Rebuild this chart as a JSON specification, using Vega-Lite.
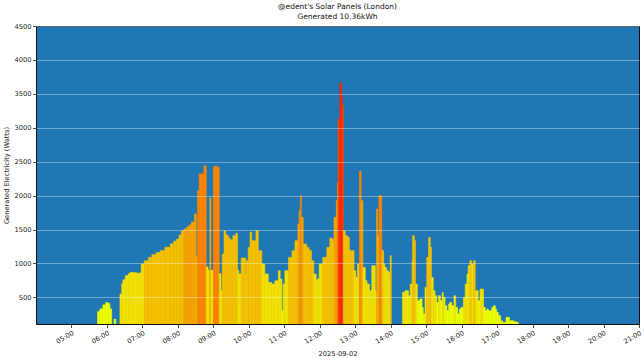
{
  "$schema": "https://vega.github.io/schema/vega-lite/v6.json",
  "autosize": "none",
  "width": 603,
  "height": 298,
  "padding": {"left": 36, "top": 26, "right": 5, "bottom": 34},
  "background": "#ffffff",
  "title": {
    "text": ["@edent's Solar Panels (London)", "Generated 10.36kWh"],
    "font": "DejaVu Sans",
    "fontSize": 7.5,
    "fontWeight": "normal",
    "color": "#111",
    "anchor": "middle",
    "lineHeight": 10,
    "offset": 3
  },
  "config": {
    "view": {"fill": "#1f77b4", "stroke": "#111", "strokeWidth": 1},
    "axis": {
      "labelFont": "DejaVu Sans",
      "titleFont": "DejaVu Sans",
      "labelFontSize": 6.7,
      "titleFontSize": 6.7,
      "titleFontWeight": "normal",
      "labelColor": "#222",
      "titleColor": "#222",
      "tickColor": "#222",
      "tickSize": 3.5,
      "tickWidth": 0.8,
      "domain": false
    }
  },
  "data": {
    "format": {"parse": {"t": "date"}},
    "values": [
      {"t": "2025-09-02T05:44", "w": 290},
      {"t": "2025-09-02T05:48", "w": 330},
      {"t": "2025-09-02T05:53", "w": 390},
      {"t": "2025-09-02T05:58", "w": 425},
      {"t": "2025-09-02T06:02", "w": 410},
      {"t": "2025-09-02T06:05", "w": 330},
      {"t": "2025-09-02T06:08", "w": null},
      {"t": "2025-09-02T06:12", "w": 180},
      {"t": "2025-09-02T06:15", "w": null},
      {"t": "2025-09-02T06:22", "w": 550},
      {"t": "2025-09-02T06:25", "w": 700},
      {"t": "2025-09-02T06:27", "w": 760},
      {"t": "2025-09-02T06:31", "w": 820},
      {"t": "2025-09-02T06:36", "w": 850},
      {"t": "2025-09-02T06:39", "w": 870},
      {"t": "2025-09-02T06:44", "w": 865},
      {"t": "2025-09-02T06:50", "w": 855},
      {"t": "2025-09-02T06:54", "w": 860},
      {"t": "2025-09-02T06:58", "w": 990},
      {"t": "2025-09-02T07:03", "w": 1040},
      {"t": "2025-09-02T07:10", "w": 1090},
      {"t": "2025-09-02T07:16", "w": 1130},
      {"t": "2025-09-02T07:23", "w": 1160},
      {"t": "2025-09-02T07:30", "w": 1190},
      {"t": "2025-09-02T07:38", "w": 1240},
      {"t": "2025-09-02T07:47", "w": 1290},
      {"t": "2025-09-02T07:53", "w": 1330},
      {"t": "2025-09-02T07:58", "w": 1360},
      {"t": "2025-09-02T08:02", "w": 1420},
      {"t": "2025-09-02T08:06", "w": 1480},
      {"t": "2025-09-02T08:10", "w": 1510},
      {"t": "2025-09-02T08:15", "w": 1540},
      {"t": "2025-09-02T08:19", "w": 1570},
      {"t": "2025-09-02T08:23", "w": 1610},
      {"t": "2025-09-02T08:28", "w": 1730},
      {"t": "2025-09-02T08:31", "w": 1100},
      {"t": "2025-09-02T08:33", "w": 2070},
      {"t": "2025-09-02T08:36", "w": 2320},
      {"t": "2025-09-02T08:41", "w": 2320},
      {"t": "2025-09-02T08:44", "w": 2440},
      {"t": "2025-09-02T08:48", "w": 950},
      {"t": "2025-09-02T08:51", "w": 900},
      {"t": "2025-09-02T08:54", "w": 1970},
      {"t": "2025-09-02T08:56", "w": 900},
      {"t": "2025-09-02T09:00", "w": 2420},
      {"t": "2025-09-02T09:03", "w": 2440},
      {"t": "2025-09-02T09:06", "w": 2420},
      {"t": "2025-09-02T09:10", "w": 850},
      {"t": "2025-09-02T09:13", "w": 600},
      {"t": "2025-09-02T09:15", "w": 1140},
      {"t": "2025-09-02T09:18", "w": 1480},
      {"t": "2025-09-02T09:21", "w": 1420},
      {"t": "2025-09-02T09:25", "w": 1380},
      {"t": "2025-09-02T09:28", "w": 1350},
      {"t": "2025-09-02T09:33", "w": 1410},
      {"t": "2025-09-02T09:38", "w": 1444},
      {"t": "2025-09-02T09:41", "w": 900},
      {"t": "2025-09-02T09:43", "w": 845},
      {"t": "2025-09-02T09:47", "w": 1080},
      {"t": "2025-09-02T09:52", "w": 1080},
      {"t": "2025-09-02T09:55", "w": 845},
      {"t": "2025-09-02T09:56", "w": 1040},
      {"t": "2025-09-02T09:59", "w": 1238},
      {"t": "2025-09-02T10:02", "w": 1460},
      {"t": "2025-09-02T10:05", "w": 1336},
      {"t": "2025-09-02T10:12", "w": 1484},
      {"t": "2025-09-02T10:16", "w": 1189},
      {"t": "2025-09-02T10:22", "w": 992},
      {"t": "2025-09-02T10:27", "w": 845},
      {"t": "2025-09-02T10:33", "w": 721},
      {"t": "2025-09-02T10:39", "w": 697},
      {"t": "2025-09-02T10:44", "w": 746},
      {"t": "2025-09-02T10:50", "w": 894},
      {"t": "2025-09-02T10:53", "w": 771},
      {"t": "2025-09-02T10:56", "w": 303},
      {"t": "2025-09-02T10:58", "w": 697},
      {"t": "2025-09-02T11:01", "w": 894},
      {"t": "2025-09-02T11:07", "w": 1090},
      {"t": "2025-09-02T11:13", "w": 1189},
      {"t": "2025-09-02T11:18", "w": 1336},
      {"t": "2025-09-02T11:23", "w": 1582},
      {"t": "2025-09-02T11:25", "w": 1779},
      {"t": "2025-09-02T11:27", "w": 2000},
      {"t": "2025-09-02T11:29", "w": 1680},
      {"t": "2025-09-02T11:32", "w": 1287},
      {"t": "2025-09-02T11:38", "w": 1238},
      {"t": "2025-09-02T11:42", "w": 1189},
      {"t": "2025-09-02T11:46", "w": 1041},
      {"t": "2025-09-02T11:50", "w": 845},
      {"t": "2025-09-02T11:54", "w": 746},
      {"t": "2025-09-02T11:56", "w": 771},
      {"t": "2025-09-02T11:59", "w": 992},
      {"t": "2025-09-02T12:05", "w": 1090},
      {"t": "2025-09-02T12:12", "w": 1238},
      {"t": "2025-09-02T12:17", "w": 1375},
      {"t": "2025-09-02T12:20", "w": 1360},
      {"t": "2025-09-02T12:24", "w": 1680},
      {"t": "2025-09-02T12:28", "w": 1926},
      {"t": "2025-09-02T12:30", "w": 2196},
      {"t": "2025-09-02T12:31", "w": 3130},
      {"t": "2025-09-02T12:34", "w": 3660},
      {"t": "2025-09-02T12:37", "w": 3500},
      {"t": "2025-09-02T12:38", "w": 3330},
      {"t": "2025-09-02T12:40", "w": 1484},
      {"t": "2025-09-02T12:43", "w": 1410},
      {"t": "2025-09-02T12:47", "w": 1385},
      {"t": "2025-09-02T12:50", "w": 1189},
      {"t": "2025-09-02T12:54", "w": 1189},
      {"t": "2025-09-02T12:58", "w": 894},
      {"t": "2025-09-02T13:01", "w": 796},
      {"t": "2025-09-02T13:04", "w": 992},
      {"t": "2025-09-02T13:07", "w": 2360},
      {"t": "2025-09-02T13:10", "w": 1926},
      {"t": "2025-09-02T13:13", "w": 942},
      {"t": "2025-09-02T13:17", "w": 746},
      {"t": "2025-09-02T13:20", "w": 697},
      {"t": "2025-09-02T13:24", "w": 599},
      {"t": "2025-09-02T13:28", "w": 967},
      {"t": "2025-09-02T13:31", "w": 967},
      {"t": "2025-09-02T13:34", "w": 599},
      {"t": "2025-09-02T13:36", "w": 1803},
      {"t": "2025-09-02T13:38", "w": 1410},
      {"t": "2025-09-02T13:40", "w": 2000},
      {"t": "2025-09-02T13:43", "w": 2000},
      {"t": "2025-09-02T13:45", "w": 1189},
      {"t": "2025-09-02T13:48", "w": 992},
      {"t": "2025-09-02T13:50", "w": 942},
      {"t": "2025-09-02T13:53", "w": 894},
      {"t": "2025-09-02T13:56", "w": 870},
      {"t": "2025-09-02T13:59", "w": 1115},
      {"t": "2025-09-02T14:01", "w": null},
      {"t": "2025-09-02T14:20", "w": 574},
      {"t": "2025-09-02T14:24", "w": 599},
      {"t": "2025-09-02T14:30", "w": 525},
      {"t": "2025-09-02T14:33", "w": 697},
      {"t": "2025-09-02T14:36", "w": 1041},
      {"t": "2025-09-02T14:37", "w": 1410},
      {"t": "2025-09-02T14:40", "w": 1336},
      {"t": "2025-09-02T14:42", "w": 697},
      {"t": "2025-09-02T14:45", "w": 451},
      {"t": "2025-09-02T14:49", "w": 476},
      {"t": "2025-09-02T14:53", "w": 353},
      {"t": "2025-09-02T14:55", "w": 255},
      {"t": "2025-09-02T14:58", "w": 648},
      {"t": "2025-09-02T15:01", "w": 1090},
      {"t": "2025-09-02T15:04", "w": 1385},
      {"t": "2025-09-02T15:07", "w": 1238},
      {"t": "2025-09-02T15:09", "w": 795},
      {"t": "2025-09-02T15:12", "w": 599},
      {"t": "2025-09-02T15:15", "w": 525},
      {"t": "2025-09-02T15:18", "w": 426},
      {"t": "2025-09-02T15:21", "w": 525},
      {"t": "2025-09-02T15:24", "w": 451},
      {"t": "2025-09-02T15:27", "w": 574},
      {"t": "2025-09-02T15:29", "w": 500},
      {"t": "2025-09-02T15:32", "w": 377},
      {"t": "2025-09-02T15:35", "w": 303},
      {"t": "2025-09-02T15:38", "w": 401},
      {"t": "2025-09-02T15:40", "w": 426},
      {"t": "2025-09-02T15:43", "w": 377},
      {"t": "2025-09-02T15:47", "w": 525},
      {"t": "2025-09-02T15:50", "w": 353},
      {"t": "2025-09-02T15:53", "w": 255},
      {"t": "2025-09-02T15:56", "w": 328},
      {"t": "2025-09-02T15:59", "w": 353},
      {"t": "2025-09-02T16:03", "w": 500},
      {"t": "2025-09-02T16:06", "w": 697},
      {"t": "2025-09-02T16:09", "w": 845},
      {"t": "2025-09-02T16:11", "w": 968},
      {"t": "2025-09-02T16:14", "w": 1041},
      {"t": "2025-09-02T16:17", "w": 992},
      {"t": "2025-09-02T16:20", "w": 1041},
      {"t": "2025-09-02T16:23", "w": 599},
      {"t": "2025-09-02T16:26", "w": 599},
      {"t": "2025-09-02T16:28", "w": 451},
      {"t": "2025-09-02T16:31", "w": 623},
      {"t": "2025-09-02T16:34", "w": 623},
      {"t": "2025-09-02T16:37", "w": 353},
      {"t": "2025-09-02T16:40", "w": 303},
      {"t": "2025-09-02T16:43", "w": 328},
      {"t": "2025-09-02T16:45", "w": 303},
      {"t": "2025-09-02T16:48", "w": 303},
      {"t": "2025-09-02T16:51", "w": 353},
      {"t": "2025-09-02T16:54", "w": 377},
      {"t": "2025-09-02T16:57", "w": 328},
      {"t": "2025-09-02T16:59", "w": 279},
      {"t": "2025-09-02T17:02", "w": 230},
      {"t": "2025-09-02T17:06", "w": 156},
      {"t": "2025-09-02T17:09", "w": 131},
      {"t": "2025-09-02T17:12", "w": 131},
      {"t": "2025-09-02T17:15", "w": 206},
      {"t": "2025-09-02T17:18", "w": 206},
      {"t": "2025-09-02T17:21", "w": 156},
      {"t": "2025-09-02T17:25", "w": 156},
      {"t": "2025-09-02T17:28", "w": 140},
      {"t": "2025-09-02T17:33", "w": 131},
      {"t": "2025-09-02T17:36", "w": null}
    ]
  },
  "transform": [
    {"window": [{"op": "lead", "field": "t", "as": "t_end"}], "sort": [{"field": "t", "order": "ascending"}]},
    {"filter": {"field": "w", "valid": true}}
  ],
  "mark": {"type": "bar", "clip": true, "strokeWidth": 0.6},
  "encoding": {
    "x": {
      "field": "t",
      "type": "temporal",
      "scale": {"domain": [{"year": 2025, "month": 9, "date": 2, "hours": 4}, {"year": 2025, "month": 9, "date": 2, "hours": 21}]},
      "axis": {
        "title": "2025-09-02",
        "format": "%H:%M",
        "values": [
          {"year": 2025, "month": 9, "date": 2, "hours": 5},
          {"year": 2025, "month": 9, "date": 2, "hours": 6},
          {"year": 2025, "month": 9, "date": 2, "hours": 7},
          {"year": 2025, "month": 9, "date": 2, "hours": 8},
          {"year": 2025, "month": 9, "date": 2, "hours": 9},
          {"year": 2025, "month": 9, "date": 2, "hours": 10},
          {"year": 2025, "month": 9, "date": 2, "hours": 11},
          {"year": 2025, "month": 9, "date": 2, "hours": 12},
          {"year": 2025, "month": 9, "date": 2, "hours": 13},
          {"year": 2025, "month": 9, "date": 2, "hours": 14},
          {"year": 2025, "month": 9, "date": 2, "hours": 15},
          {"year": 2025, "month": 9, "date": 2, "hours": 16},
          {"year": 2025, "month": 9, "date": 2, "hours": 17},
          {"year": 2025, "month": 9, "date": 2, "hours": 18},
          {"year": 2025, "month": 9, "date": 2, "hours": 19},
          {"year": 2025, "month": 9, "date": 2, "hours": 20},
          {"year": 2025, "month": 9, "date": 2, "hours": 21}
        ],
        "labelAngle": -30,
        "labelAlign": "right",
        "labelBaseline": "top",
        "labelPadding": 2,
        "titlePadding": 6,
        "grid": false
      }
    },
    "x2": {"field": "t_end"},
    "y": {
      "field": "w",
      "type": "quantitative",
      "scale": {"domain": [108, 4500], "zero": false, "nice": false},
      "axis": {
        "title": "Generated Electricity (Watts)",
        "format": "d",
        "values": [500, 1000, 1500, 2000, 2500, 3000, 3500, 4000, 4500],
        "grid": true,
        "gridColor": "#ffffff",
        "gridOpacity": 0.45,
        "gridWidth": 0.8,
        "zindex": 1,
        "labelPadding": 1.5,
        "titlePadding": 4
      }
    },
    "y2": {"datum": 0},
    "color": {
      "field": "w",
      "type": "quantitative",
      "scale": {"type": "threshold", "domain": [500, 1000, 1500, 2000, 2500, 3000, 3500], "range": ["#ecff00", "#f2e100", "#f4c000", "#f6a200", "#fd8300", "#ff6000", "#ff4000", "#ff2400"]},
      "legend": null
    },
    "stroke": {
      "field": "w",
      "type": "quantitative",
      "scale": {"type": "threshold", "domain": [500, 1000, 1500, 2000, 2500, 3000, 3500], "range": ["#ecff00", "#f2e100", "#f4c000", "#f6a200", "#fd8300", "#ff6000", "#ff4000", "#ff2400"]},
      "legend": null
    }
  }
}
